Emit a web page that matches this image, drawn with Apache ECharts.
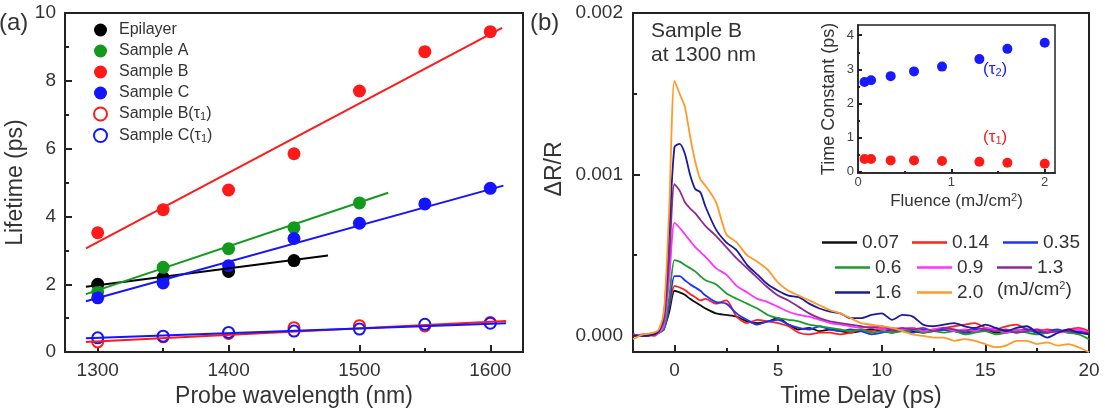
<!DOCTYPE html>
<html>
<head>
<meta charset="utf-8">
<script src="https://cdn.jsdelivr.net/npm/echarts@6/dist/echarts.min.js"></script>
<style>
html, body { margin: 0; padding: 0; background: #fff; }
#chart { width: 1105px; height: 413px; }
</style>
</head>
<body>
<div id="chart"></div>
<script>
// (a) lifetime vs probe wavelength
const wavelengths = [1300, 1350, 1400, 1450, 1500, 1550, 1600];
const epilayer = [2.0, 2.2, 2.38, 2.7];            // 1300-1450
const sampleA = [1.78, 2.5, 3.05, 3.67, 4.4];       // 1300-1500
const sampleB = [3.52, 4.2, 4.78, 5.85, 7.7, 8.86, 9.45];
const sampleC = [1.6, 2.04, 2.55, 3.35, 3.8, 4.37, 4.83];
const sampleBt1 = [0.3, 0.45, 0.55, 0.72, 0.78, 0.77, 0.87];
const sampleCt1 = [0.42, 0.47, 0.58, 0.62, 0.68, 0.82, 0.85];

// linear fits, end points
const fitEpi = [[1291, 1.93], [1476, 2.85]];
const fitA = [[1291, 1.71], [1522, 4.7]];
const fitB = [[1291, 3.06], [1609, 9.56]];
const fitC = [[1291, 1.5], [1610, 4.91]];
const fitBt1 = [[1291, 0.3], [1612, 0.92]];
const fitCt1 = [[1291, 0.41], [1612, 0.85]];

// (b) transient reflectivity, values in units of 1e-3
const timeDelay = [-2, -1.5, -1, -0.75, -0.5, -0.25, 0, 0.25, 0.5, 0.75, 1, 1.25, 1.5,
  2, 2.5, 3, 3.5, 4, 4.5, 5, 5.5, 6, 6.5, 7, 7.5, 8, 8.5, 9, 9.5, 10, 10.5, 11, 11.5,
  12, 12.5, 13, 13.5, 14, 14.5, 15, 15.5, 16, 16.5, 17, 17.5, 18, 18.5, 19, 19.5, 20];
const dr007 = [0.01, 0.00, 0.01, 0.02, 0.05, 0.15, 0.28, 0.27, 0.255, 0.23, 0.21, 0.19, 0.17,
  0.14, 0.13, 0.12, 0.09, 0.08, 0.09, 0.11, 0.07, 0.04, 0.05, 0.03, 0.04, 0.03, 0.02, 0.03, 0.04,
  0.03, 0.02, 0.04, 0.03, 0.02, 0.03, 0.04, 0.03, 0.02, 0.03, 0.04, 0.02, 0.03, 0.02, 0.04, 0.03,
  0.02, 0.03, 0.03, 0.02, 0.02];
const dr014 = [0.00, 0.01, 0.00, 0.02, 0.05, 0.18, 0.31, 0.30, 0.285, 0.26, 0.24, 0.22, 0.23,
  0.20, 0.22, 0.12, 0.08, 0.10, 0.09, 0.08, 0.06, 0.02, 0.01, 0.02, 0.02, 0.01, 0.02, 0.04, 0.03,
  0.05, 0.03, 0.04, 0.05, 0.03, 0.04, 0.05, 0.06, 0.07, 0.08, 0.05, 0.04, 0.06, 0.07, 0.04, 0.03,
  0.04, 0.03, 0.04, 0.05, 0.03];
const dr035 = [0.01, 0.00, 0.01, 0.02, 0.04, 0.19, 0.37, 0.37, 0.345, 0.32, 0.30, 0.28, 0.25,
  0.21, 0.20, 0.14, 0.10, 0.07, 0.09, 0.10, 0.07, 0.05, 0.04, 0.06, 0.04, 0.03, 0.04, 0.03, 0.01,
  0.02, 0.04, 0.03, 0.02, 0.04, 0.03, 0.04, 0.03, 0.02, 0.04, 0.03, 0.05, 0.02, 0.03, 0.04, 0.02,
  0.03, 0.04, 0.02, 0.03, 0.01];
const dr06 = [0.01, 0.00, 0.01, 0.02, 0.05, 0.24, 0.47, 0.46, 0.44, 0.42, 0.40, 0.37, 0.345,
  0.32, 0.265, 0.23, 0.20, 0.17, 0.13, 0.11, 0.10, 0.09, 0.07, 0.06, 0.05, 0.04, 0.03, 0.04, 0.02,
  0.03, 0.02, 0.03, 0.04, 0.02, 0.03, 0.02, 0.03, 0.01, 0.02, 0.03, 0.01, 0.02, 0.03, 0.02, 0.01,
  0.02, 0.03, 0.02, 0.01, -0.02];
const dr09 = [0.00, 0.01, 0.01, 0.02, 0.07, 0.36, 0.70, 0.67, 0.63, 0.59, 0.55, 0.52, 0.49,
  0.42, 0.38, 0.31, 0.27, 0.23, 0.21, 0.18, 0.15, 0.13, 0.12, 0.10, 0.08, 0.07, 0.06, 0.05, 0.06,
  0.04, 0.05, 0.04, 0.05, 0.03, 0.04, 0.05, 0.03, 0.04, 0.03, 0.05, 0.04, 0.02, 0.04, 0.03, 0.04,
  0.03, 0.02, 0.03, 0.04, 0.02];
const dr13 = [0.01, 0.00, 0.01, 0.03, 0.10, 0.48, 0.94, 0.90, 0.83, 0.79, 0.76, 0.72, 0.68,
  0.62, 0.55, 0.48, 0.42, 0.36, 0.30, 0.25, 0.22, 0.18, 0.14, 0.11, 0.09, 0.08, 0.07, 0.06, 0.05,
  0.06, 0.04, 0.05, 0.04, 0.05, 0.03, 0.05, 0.04, 0.03, 0.05, 0.04, 0.03, 0.04, 0.02, 0.03, 0.04,
  0.02, 0.03, 0.03, 0.02, 0.02];
const dr16 = [0.00, 0.00, 0.01, 0.03, 0.14, 0.65, 1.17, 1.19, 1.13, 1.00, 0.91, 0.89, 0.80,
  0.66, 0.58, 0.53, 0.44, 0.38, 0.32, 0.28, 0.25, 0.24, 0.20, 0.17, 0.15, 0.14, 0.11, 0.11, 0.13,
  0.14, 0.10, 0.13, 0.12, 0.07, 0.06, 0.07, 0.08, 0.06, 0.05, 0.07, 0.05, 0.03, 0.05, 0.06, 0.02,
  -0.01, 0.02, 0.04, 0.02, 0.01];
const dr20 = [-0.02, 0.01, 0.02, 0.04, 0.16, 0.80, 1.58, 1.50, 1.42, 1.24, 1.08, 0.97, 0.93,
  0.83, 0.63, 0.58, 0.50, 0.46, 0.41, 0.33, 0.28, 0.25, 0.22, 0.19, 0.16, 0.14, 0.11, 0.08, 0.07,
  0.06, 0.05, 0.03, 0.01, 0.00, -0.01, -0.01, -0.03, -0.02, -0.03, -0.05, -0.07, -0.06, -0.03, -0.03,
  -0.05, -0.04, -0.06, -0.05, -0.07, -0.10];

const fluenceNames = ['0.07', '0.14', '0.35', '0.6', '0.9', '1.3', '1.6', '2.0'];
const fluenceColors = ['#111111', '#ff2020', '#2030ff', '#1e9a2a', '#ff33ff', '#8e2a96', '#1a1a9a', '#ff9a2a'];
const traces = [dr007, dr014, dr035, dr06, dr09, dr13, dr16, dr20];

// inset: time constants vs fluence
const fluence = [0.07, 0.14, 0.35, 0.6, 0.9, 1.3, 1.6, 2.0];
const tau2 = [2.63, 2.68, 2.8, 2.94, 3.08, 3.3, 3.6, 3.78];
const tau1 = [0.37, 0.37, 0.33, 0.33, 0.31, 0.29, 0.26, 0.23];

const txt = '#333';
const axisCol = '#222';
const subRich = { sub: { fontSize: 11, verticalAlign: 'bottom', padding: [6, 0, 0, 0] }, sup: { fontSize: 11, verticalAlign: 'top', padding: [0, 0, 8, 0] } };

const pairs = (xs, ys) => ys.map((y, i) => [xs[i], y]);

// axis with ticks (and optionally labels) drawn from custom values
function tickAxis(grid, min, max, ticks, labels, len, lineW, extra) {
  return Object.assign({
    type: 'value', gridIndex: grid, min: min, max: max,
    axisLine: { show: true, onZero: false, lineStyle: { color: axisCol, width: lineW } },
    splitLine: { show: false },
    axisTick: ticks ? { show: true, inside: true, length: len, customValues: ticks, lineStyle: { color: axisCol, width: 2 } } : { show: false },
    axisLabel: labels ? { customValues: labels, fontSize: 19, color: txt, margin: 9, formatter: v => String(v) } : { show: false }
  }, extra || {});
}

const markerSeries = [
  { name: 'Epilayer', data: pairs(wavelengths, epilayer), color: '#000000', open: false },
  { name: 'Sample A', data: pairs(wavelengths, sampleA), color: '#139a1c', open: false },
  { name: 'Sample B', data: pairs(wavelengths, sampleB), color: '#ff1a1a', open: false },
  { name: 'Sample C', data: pairs(wavelengths, sampleC), color: '#1414ff', open: false },
  { name: 'Sample B(τ1)', data: pairs(wavelengths, sampleBt1), color: '#ff1a1a', open: true },
  { name: 'Sample C(τ1)', data: pairs(wavelengths, sampleCt1), color: '#1414ff', open: true }
];
const fits = [
  [fitEpi, '#000000'], [fitA, '#139a1c'], [fitB, '#ff1a1a'], [fitC, '#1414ff'], [fitBt1, '#ff1a1a'], [fitCt1, '#1414ff']
];

const series = [];
markerSeries.forEach(s => {
  series.push({
    type: 'scatter', name: s.name, xAxisIndex: 0, yAxisIndex: 0, z: 2,
    data: s.data, symbol: 'circle', symbolSize: s.open ? 11 : 13,
    itemStyle: s.open ? { color: '#ffffff', borderColor: s.color, borderWidth: 2, opacity: 1 } : { color: s.color, opacity: 1 }
  });
});
fits.forEach(f => {
  series.push({
    type: 'line', xAxisIndex: 0, yAxisIndex: 0, z: 3, silent: true,
    data: f[0], symbol: 'none', lineStyle: { color: f[1], width: 2 }
  });
});
traces.forEach((tr, k) => {
  series.push({
    type: 'line', name: fluenceNames[k], xAxisIndex: 3, yAxisIndex: 3,
    data: timeDelay.map((t, i) => [t, tr[i] * 1e-3]),
    symbol: 'none', smooth: 0.25, clip: true,
    lineStyle: { color: fluenceColors[k], width: 1.8 },
    itemStyle: { color: fluenceColors[k] }
  });
});
series.push({
  type: 'scatter', xAxisIndex: 6, yAxisIndex: 6, data: pairs(fluence, tau2),
  symbolSize: 10, itemStyle: { color: '#1a1aff', opacity: 1 }
});
series.push({
  type: 'scatter', xAxisIndex: 6, yAxisIndex: 6, data: pairs(fluence, tau1),
  symbolSize: 10, itemStyle: { color: '#ff1a1a', opacity: 1 }
});

// one legend per entry so each can sit where the reference puts it
const legendPos = [
  [822, 233], [912, 233], [1003, 233],
  [835, 258], [917, 258], [997, 258],
  [835, 283], [917, 283]
];
const legends = [{
  data: markerSeries.map(s => s.name),
  orient: 'vertical', left: 93, top: 22, padding: 0, itemGap: 5,
  itemWidth: 13, itemHeight: 13, selectedMode: false,
  formatter: n => n.replace('τ1', 'τ{sub|1}'),
  textStyle: { fontSize: 16, color: txt, padding: [0, 0, 0, 7], rich: subRich }
}];
fluenceNames.forEach((n, k) => {
  legends.push({
    data: [n], left: legendPos[k][0], top: legendPos[k][1], padding: 0,
    icon: 'rect', itemWidth: 35, itemHeight: 2.5, selectedMode: false,
    textStyle: { fontSize: 19, color: txt }
  });
});

const option = {
  animation: false,
  backgroundColor: '#ffffff',
  textStyle: { fontFamily: 'Liberation Sans, Arial, sans-serif' },
  grid: [
    { left: 65, top: 13, width: 458, height: 340 },
    { left: 633, top: 13, width: 456, height: 340 },
    { left: 858, top: 25, width: 197, height: 148 }
  ],
  xAxis: [
    tickAxis(0, 1275, 1625, [1300, 1400, 1500, 1600], [1300, 1400, 1500, 1600], 7, 2, {
      position: 'bottom',
      name: 'Probe wavelength (nm)', nameLocation: 'middle', nameGap: 32,
      nameTextStyle: { fontSize: 23, color: txt }
    }),
    tickAxis(0, 1275, 1625, [1350, 1450, 1550], null, 4, 2, { position: 'bottom' }),
    tickAxis(0, 1275, 1625, null, null, 0, 2, { position: 'top' }),
    tickAxis(1, -2, 20, [0, 5, 10, 15, 20], [0, 5, 10, 15, 20], 7, 2, {
      position: 'bottom',
      name: 'Time Delay (ps)', nameLocation: 'middle', nameGap: 32,
      nameTextStyle: { fontSize: 23, color: txt }
    }),
    tickAxis(1, -2, 20, [2.5, 7.5, 12.5, 17.5], null, 4, 2, { position: 'bottom' }),
    tickAxis(1, -2, 20, null, null, 0, 2, { position: 'top' }),
    tickAxis(2, 0, 2.11, [0, 1, 2], [0, 1, 2], 4, 1.5, {
      position: 'bottom',
      axisLabel: { customValues: [0, 1, 2], fontSize: 13, color: '#444', margin: 3 },
      name: 'Fluence (mJ/cm{sup|2})', nameLocation: 'middle', nameGap: 19,
      nameTextStyle: { fontSize: 17, color: txt, rich: subRich }
    }),
    tickAxis(2, 0, 2.11, [0.5, 1.5], null, 2, 1.5, { position: 'bottom' }),
    tickAxis(2, 0, 2.11, null, null, 0, 1.5, { position: 'top' })
  ],
  yAxis: [
    tickAxis(0, 0, 10, [0, 2, 4, 6, 8, 10], [0, 2, 4, 6, 8, 10], 7, 2, {
      position: 'left',
      name: 'Lifetime (ps)', nameLocation: 'middle', nameGap: 38,
      nameTextStyle: { fontSize: 23, color: txt }
    }),
    tickAxis(0, 0, 10, [1, 3, 5, 7, 9], null, 4, 2, { position: 'left' }),
    tickAxis(0, 0, 10, null, null, 0, 2, { position: 'right' }),
    tickAxis(1, -0.0001, 0.002, [0, 0.001, 0.002], [0, 0.001, 0.002], 7, 2, {
      position: 'left',
      axisLabel: { customValues: [0, 0.001, 0.002], fontSize: 19, color: txt, margin: 10, formatter: v => v.toFixed(3) }
    }),
    tickAxis(1, -0.0001, 0.002, [0.0005, 0.0015], null, 4, 2, { position: 'left' }),
    tickAxis(1, -0.0001, 0.002, null, null, 0, 2, { position: 'right' }),
    tickAxis(2, -0.04, 4.3, [0, 1, 2, 3, 4], [0, 1, 2, 3, 4], 4, 1.5, {
      position: 'left',
      axisLabel: { customValues: [0, 1, 2, 3, 4], fontSize: 13, color: '#444', margin: 4 },
      name: 'Time Constant (ps)', nameLocation: 'middle', nameGap: 20,
      nameTextStyle: { fontSize: 18, color: txt }
    }),
    tickAxis(2, -0.04, 4.3, [0.5, 1.5, 2.5, 3.5], null, 2, 1.5, { position: 'left' }),
    tickAxis(2, -0.04, 4.3, null, null, 0, 1.5, { position: 'right' })
  ],
  legend: legends,
  graphic: [
    { type: 'text', left: -1, top: 11, style: { text: '(a)', fontSize: 24, fill: txt } },
    { type: 'text', left: 530, top: 11, style: { text: '(b)', fontSize: 24, fill: txt } },
    { type: 'text', left: 651, top: 19, style: { text: 'Sample B\nat 1300 nm', fontSize: 21, lineHeight: 24, fill: txt } },
    { type: 'text', x: 555, y: 169, rotation: Math.PI / 2,
      style: { text: 'ΔR/R', fontSize: 23, fill: txt, align: 'center', verticalAlign: 'middle' } },
    { type: 'text', left: 997, top: 280, style: { text: '(mJ/cm{sup|2})', fontSize: 19, fill: txt, rich: subRich } },
    { type: 'text', left: 983, top: 61, style: { text: '(τ{sub|2})', fontSize: 17, fill: '#1a1aff', rich: subRich } },
    { type: 'text', left: 983, top: 129, style: { text: '(τ{sub|1})', fontSize: 17, fill: '#ff1a1a', rich: subRich } }
  ],
  series: series
};

const chart = echarts.init(document.getElementById('chart'));
chart.setOption(option);
</script>
</body>
</html>
